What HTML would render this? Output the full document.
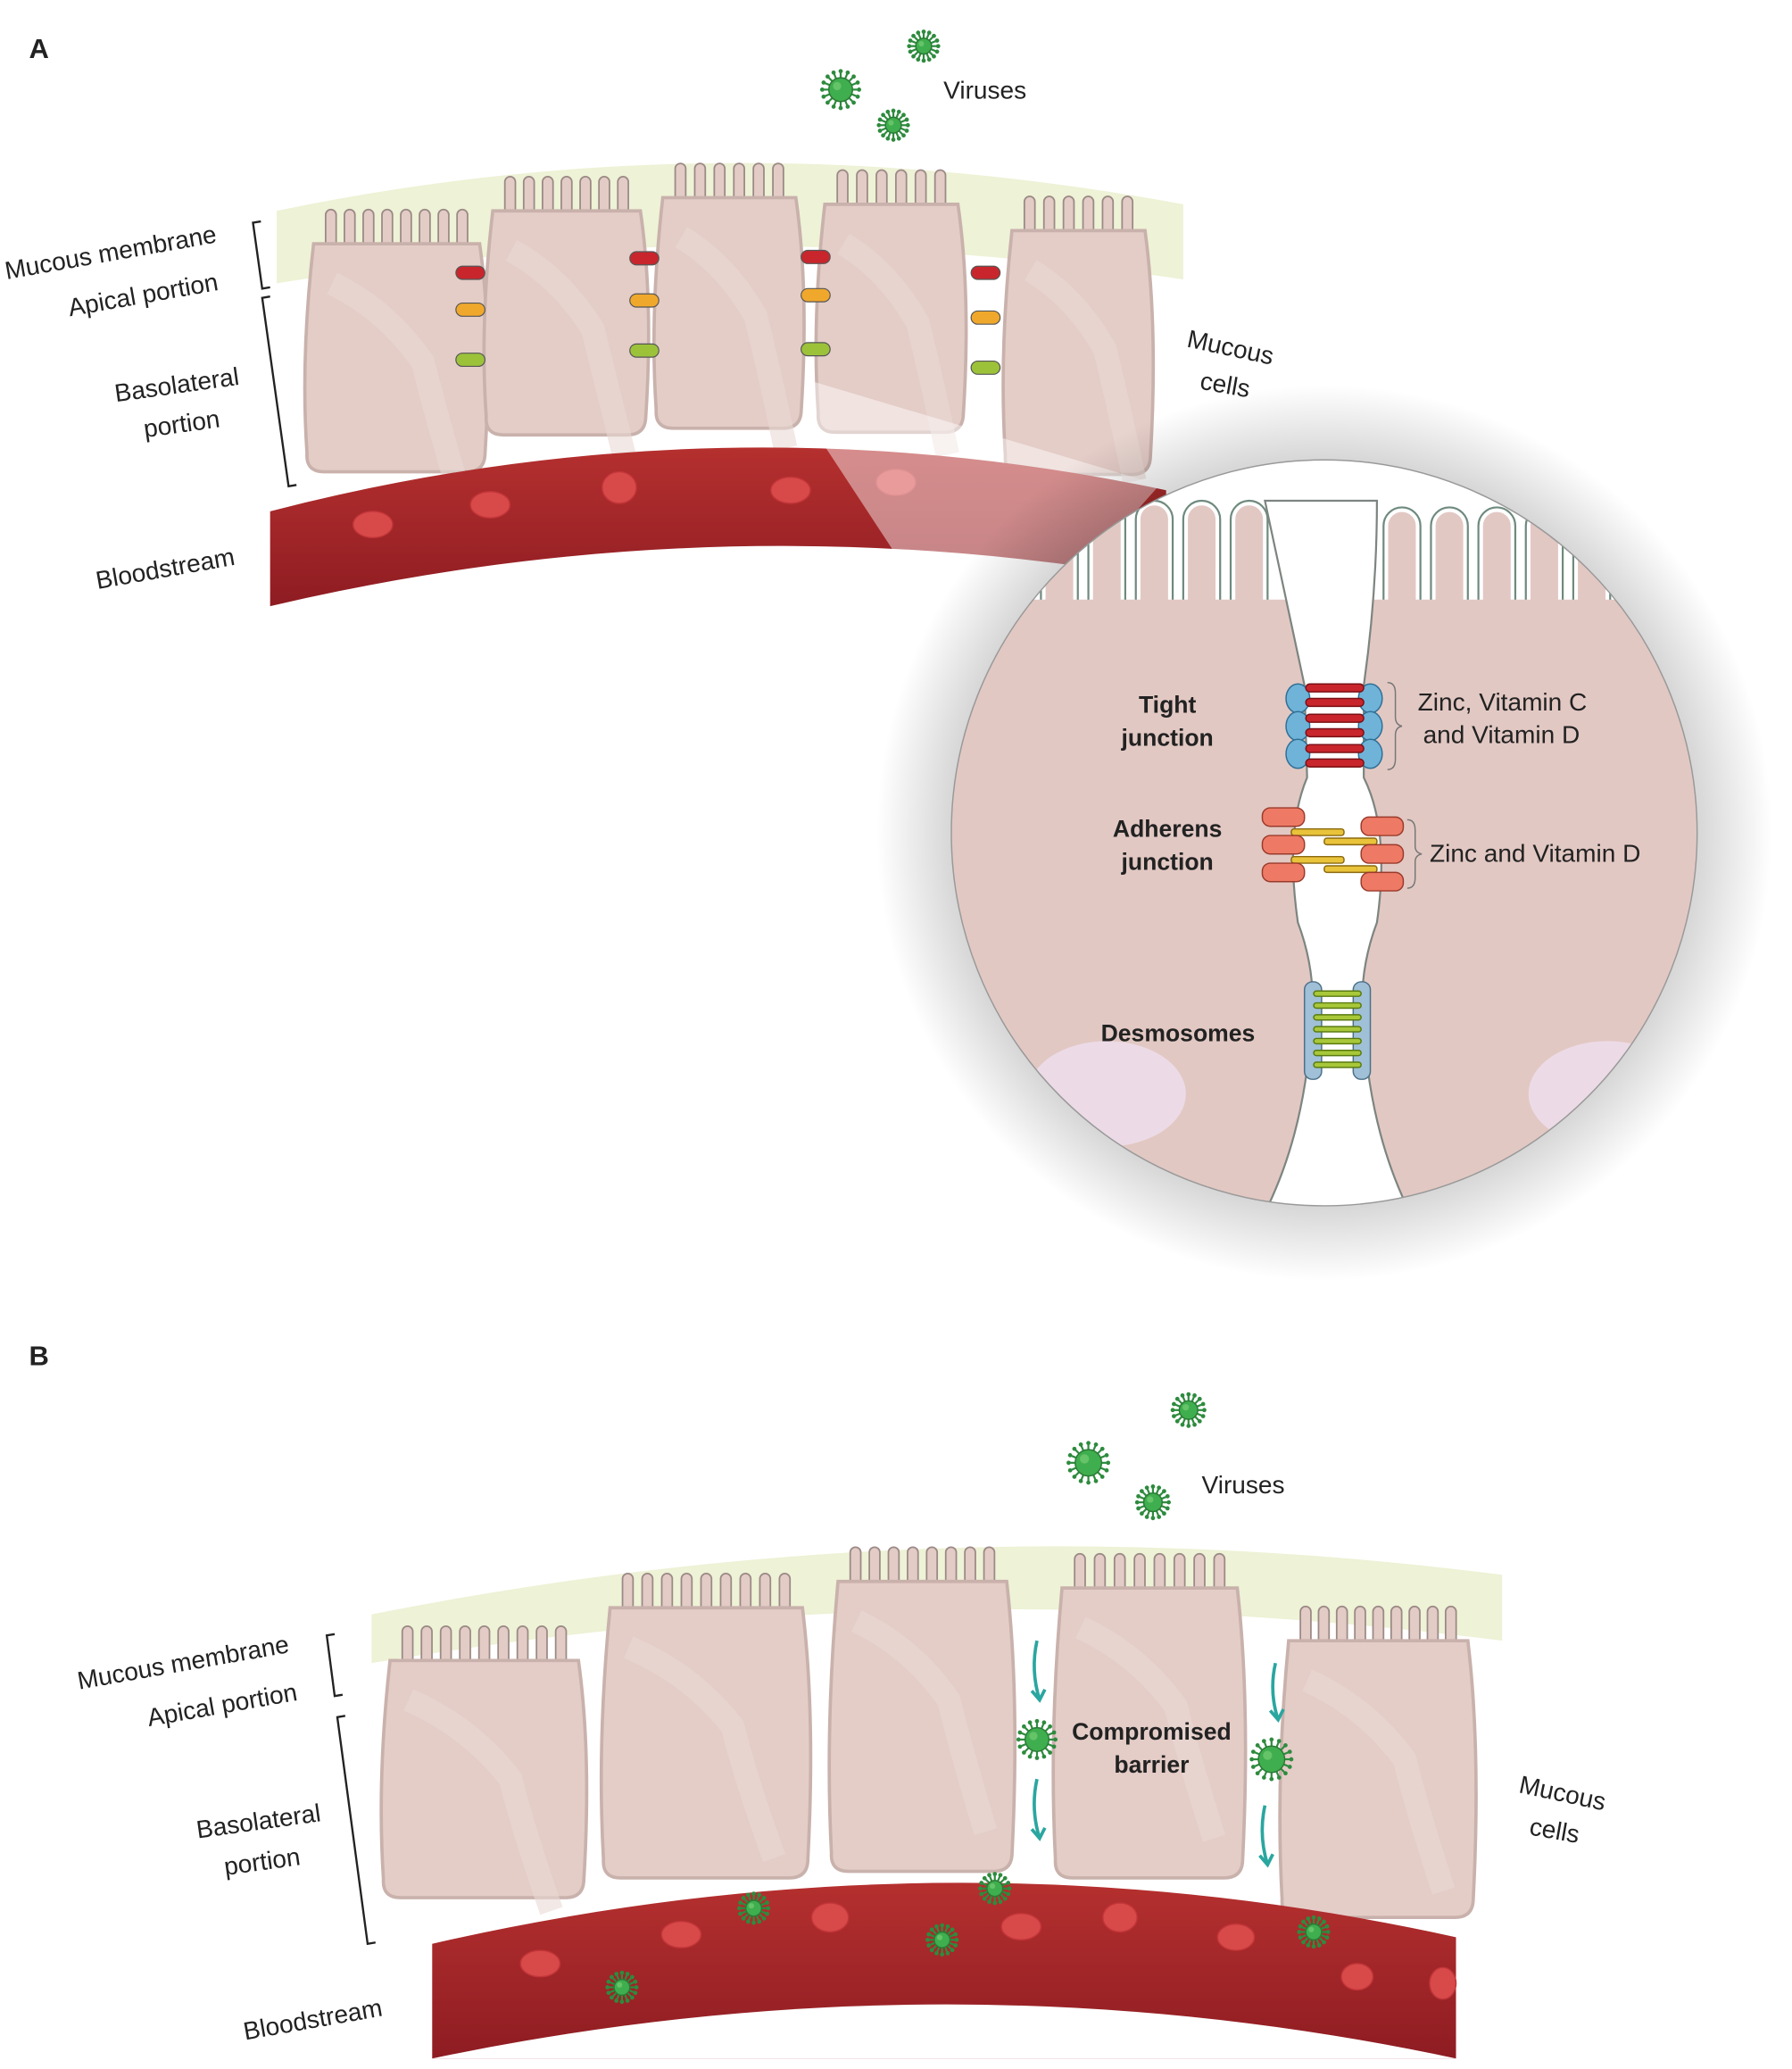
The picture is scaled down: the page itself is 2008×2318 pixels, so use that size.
<!DOCTYPE html>
<html><head><meta charset="utf-8">
<style>
html,body{margin:0;padding:0;background:#fff;}
svg{display:block;}
text{font-family:"Liberation Sans",sans-serif;font-size:19px;fill:#222;}
.b{font-weight:bold;}
</style></head>
<body>
<svg id="s" width="2008" height="2318" viewBox="0 0 1360 1570" preserveAspectRatio="none" xmlns="http://www.w3.org/2000/svg">
<defs>
<radialGradient id="sh" cx="0.5" cy="0.5" r="0.5">
<stop offset="0.78" stop-color="#000" stop-opacity="0.35"/>
<stop offset="1" stop-color="#000" stop-opacity="0"/>
</radialGradient>
<linearGradient id="bl" x1="0" y1="0" x2="0" y2="1">
<stop offset="0" stop-color="#b5302f"/><stop offset="1" stop-color="#8e1c22"/>
</linearGradient>
<clipPath id="cc"><circle cx="1005" cy="632" r="283"/></clipPath>
</defs>
<rect width="1360" height="1570" fill="#fff"/>
<text x="22" y="44" class="b" style="font-size:21px">A</text>
<text x="22" y="1036" class="b" style="font-size:21px">B</text>

<!-- Panel A -->
<path d="M210,160 Q545,90 898,155 L898,212 Q545,160 210,215 Z" fill="#eef2d6"/>
<g id="cellsA"></g>
<path d="M205,388 Q545,300 885,372 L885,440 Q545,380 205,460 Z" fill="url(#bl)"/>
<g fill="#d8494a" stroke="#c23538">
<ellipse cx="283" cy="398" rx="15" ry="10"/><ellipse cx="372" cy="383" rx="15" ry="10"/>
<ellipse cx="470" cy="370" rx="13" ry="12"/><ellipse cx="600" cy="372" rx="15" ry="10"/>
<ellipse cx="680" cy="366" rx="15" ry="10"/>
</g>
<polygon points="612,288 880,368 745,520 617,325" fill="#fff" opacity="0.45"/>
<circle cx="1005" cy="632" r="340" fill="url(#sh)" opacity="0.6"/>
<g clip-path="url(#cc)">
<rect x="700" y="340" width="620" height="600" fill="#e2c8c3"/>
<ellipse cx="840" cy="830" rx="60" ry="40" fill="#ecdbe6"/>
<ellipse cx="1220" cy="830" rx="60" ry="40" fill="#ecdbe6"/>
<g id="villiC"></g>
<path d="M960,380 Q975,450 990,520 L992,590 Q975,630 985,700 Q1000,740 995,780 Q990,860 960,920 L1070,920 Q1040,860 1035,780 Q1030,740 1045,700 Q1055,630 1035,590 L1035,520 Q1045,450 1045,380 Z" fill="#fff" stroke="#7d8580" stroke-width="1.5"/>
</g>
<circle cx="1005" cy="632" r="283" fill="none" stroke="#999" stroke-width="1"/>
<!-- tight -->
<g fill="#6fb3d9" stroke="#2f6f95">
<ellipse cx="985" cy="530" rx="9" ry="11"/><ellipse cx="985" cy="551" rx="9" ry="11"/><ellipse cx="985" cy="572" rx="9" ry="11"/>
<ellipse cx="1040" cy="530" rx="9" ry="11"/><ellipse cx="1040" cy="551" rx="9" ry="11"/><ellipse cx="1040" cy="572" rx="9" ry="11"/>
</g>
<g fill="#c8262c" stroke="#7a1015">
<rect x="991" y="519" width="44" height="6" rx="3"/><rect x="991" y="530" width="44" height="6" rx="3"/>
<rect x="991" y="542" width="44" height="6" rx="3"/><rect x="991" y="553" width="44" height="6" rx="3"/>
<rect x="991" y="565" width="44" height="6" rx="3"/><rect x="991" y="576" width="44" height="6" rx="3"/>
</g>
<path d="M1053,518 q6,0 6,8 v18 q0,6 5,7 q-5,1 -5,7 v18 q0,8 -6,8" fill="none" stroke="#777"/>
<!-- adherens -->
<g fill="#e9c33a" stroke="#8a6a10">
<rect x="980" y="629" width="40" height="5" rx="2"/><rect x="1005" y="636" width="40" height="5" rx="2"/>
<rect x="980" y="650" width="40" height="5" rx="2"/><rect x="1005" y="657" width="40" height="5" rx="2"/>
</g>
<g fill="#ee7a66" stroke="#9a3a2a">
<rect x="958" y="613" width="32" height="14" rx="6"/><rect x="958" y="634" width="32" height="14" rx="6"/><rect x="958" y="655" width="32" height="14" rx="6"/>
<rect x="1033" y="620" width="32" height="14" rx="6"/><rect x="1033" y="641" width="32" height="14" rx="6"/><rect x="1033" y="662" width="32" height="14" rx="6"/>
</g>
<path d="M1068,622 q6,0 6,8 v12 q0,5 5,6 q-5,1 -5,6 v12 q0,8 -6,8" fill="none" stroke="#777"/>
<!-- desmosomes -->
<g fill="#9fc0d6" stroke="#4c6f88">
<rect x="990" y="745" width="13" height="74" rx="6"/><rect x="1027" y="745" width="13" height="74" rx="6"/>
</g>
<g fill="#a8c83a" stroke="#5a7a10">
<rect x="997" y="752" width="36" height="4" rx="2"/><rect x="997" y="761" width="36" height="4" rx="2"/>
<rect x="997" y="770" width="36" height="4" rx="2"/><rect x="997" y="779" width="36" height="4" rx="2"/>
<rect x="997" y="788" width="36" height="4" rx="2"/><rect x="997" y="797" width="36" height="4" rx="2"/>
<rect x="997" y="806" width="36" height="4" rx="2"/>
</g>
<g text-anchor="middle" class="b" style="font-weight:bold">
<text x="886" y="541" style="font-weight:bold;font-size:18px">Tight</text>
<text x="886" y="566" style="font-weight:bold;font-size:18px">junction</text>
<text x="886" y="635" style="font-weight:bold;font-size:18px">Adherens</text>
<text x="886" y="660" style="font-weight:bold;font-size:18px">junction</text>
<text x="894" y="790" style="font-weight:bold;font-size:18px">Desmosomes</text>
</g>
<text x="1076" y="539">Zinc, Vitamin C</text>
<text x="1080" y="564">and Vitamin D</text>
<text x="1085" y="654">Zinc and Vitamin D</text>

<text x="716" y="75">Viruses</text>
<text transform="translate(5,212) rotate(-10)">Mucous membrane</text>
<text transform="translate(53,240) rotate(-10)">Apical portion</text>
<text transform="translate(88,305) rotate(-8)">Basolateral</text>
<text transform="translate(110,332) rotate(-8)">portion</text>
<text transform="translate(74,447) rotate(-10)">Bloodstream</text>
<text transform="translate(900,263) rotate(12)">Mucous</text>
<text transform="translate(910,295) rotate(10)">cells</text>
<path d="M198,168 l-6,1 l7,50 l6,-1 M205,225 l-6,1 l20,143 l6,-1" fill="none" stroke="#222" stroke-width="1.6"/>

<!-- Panel B -->
<path d="M282,1225 Q710,1140 1140,1195 L1140,1245 Q710,1190 282,1262 Z" fill="#eef2d6"/>
<g id="cellsB"></g>
<path d="M328,1475 Q720,1385 1105,1470 L1105,1562 L328,1562 Z" fill="url(#bl)"/>
<path d="M328,1562 Q720,1480 1105,1562 Z" fill="#fff"/>
<g fill="#d8494a" stroke="#c23538">
<ellipse cx="410" cy="1490" rx="15" ry="10"/><ellipse cx="517" cy="1468" rx="15" ry="10"/>
<ellipse cx="630" cy="1455" rx="14" ry="11"/><ellipse cx="775" cy="1462" rx="15" ry="10"/>
<ellipse cx="850" cy="1455" rx="13" ry="11"/><ellipse cx="938" cy="1470" rx="14" ry="10"/>
<ellipse cx="1030" cy="1500" rx="12" ry="10"/><ellipse cx="1095" cy="1505" rx="10" ry="12"/>
</g>
<g id="arrows" fill="none" stroke="#2aa6a0" stroke-width="2.5"></g>
<text x="912" y="1133">Viruses</text>
<text x="874" y="1320" text-anchor="middle" style="font-weight:bold;font-size:18px">Compromised</text>
<text x="874" y="1345" text-anchor="middle" style="font-weight:bold;font-size:18px">barrier</text>
<text transform="translate(60,1282) rotate(-10)">Mucous membrane</text>
<text transform="translate(113,1310) rotate(-10)">Apical portion</text>
<text transform="translate(150,1395) rotate(-8)">Basolateral</text>
<text transform="translate(171,1423) rotate(-8)">portion</text>
<text transform="translate(186,1548) rotate(-10)">Bloodstream</text>
<text transform="translate(1152,1360) rotate(12)">Mucous</text>
<text transform="translate(1160,1392) rotate(10)">cells</text>
<path d="M254,1240 l-6,1 l6,46 l6,-1 M262,1302 l-6,1 l23,172 l6,-1" fill="none" stroke="#222" stroke-width="1.6"/>
<g id="vir"></g>
</svg>
<script>
var NS="http://www.w3.org/2000/svg";
function el(p,t,a){var e=document.createElementNS(NS,t);for(var k in a)e.setAttribute(k,a[k]);p.appendChild(e);return e;}
function cell(g,x0,x1,top,bot){
  var w=x1-x0,n=Math.max(5,Math.round((w-20)/15)),sp=(w-24)/n;
  for(var i=0;i<n;i++){var vx=x0+12+i*sp+sp/2-4;el(g,"rect",{x:vx,y:top-26,width:8,height:34,rx:4,fill:"#e3cbc6",stroke:"#9b8a86","stroke-width":1.2});}
  el(g,"path",{d:"M"+(x0+6)+","+top+" L"+(x1-6)+","+top+" Q"+(x1+4)+","+(top+(bot-top)*0.4)+" "+(x1-2)+","+(bot-12)+" Q"+(x1-3)+","+bot+" "+(x1-16)+","+bot+" L"+(x0+14)+","+bot+" Q"+(x0)+","+bot+" "+(x0+1)+","+(bot-14)+" Q"+(x0-4)+","+(top+(bot-top)*0.5)+" "+(x0+6)+","+top+"Z",fill:"#e4ccc7",stroke:"#c9b1ac","stroke-width":2.5});
  el(g,"path",{d:"M"+(x0+20)+","+(top+30)+" q"+(w*0.3)+",20 "+(w*0.5)+",60 q10,40 "+(w*0.2)+",100",fill:"none",stroke:"#ead8d4","stroke-width":18,opacity:0.6});
}
var A=[[232,370,185,358],[368,492,160,330],[497,610,150,325],[620,733,155,328],[762,875,175,360]];
var gA=document.getElementById("cellsA");A.forEach(function(c){cell(gA,c[0],c[1],c[2],c[3]);});
var J=[[357,207,235,273],[489,196,228,266],[619,195,224,265],[748,207,241,279]];
J.forEach(function(j){[["#c8262c",j[1]],["#f0a82c",j[2]],["#9cc23a",j[3]]].forEach(function(p){el(gA,"rect",{x:j[0]-11,y:p[1]-5,width:22,height:10,rx:5,fill:p[0],stroke:"#555","stroke-width":0.8});});});
var B=[[290,445,1260,1440],[457,615,1220,1425],[630,770,1200,1420],[800,945,1205,1425],[972,1120,1245,1455]];
var gB=document.getElementById("cellsB");B.forEach(function(c){cell(gB,c[0],c[1],c[2],c[3]);});
// zoom villi
var gv=document.getElementById("villiC");
function villi(x0,x1,yb,yt){for(var x=x0;x<x1;x+=36){el(gv,"path",{d:"M"+x+","+yb+" L"+x+","+(yt+14)+" a14,14 0 0 1 28,0 L"+(x+28)+","+yb,fill:"#e2c8c3",stroke:"#fff","stroke-width":7});el(gv,"path",{d:"M"+x+","+yb+" L"+x+","+(yt+14)+" a14,14 0 0 1 28,0 L"+(x+28)+","+yb,fill:"none",stroke:"#6f8a7e","stroke-width":1.5});}}
el(gv,"rect",{x:700,y:340,width:620,height:120,fill:"#fff"});
villi(790,960,460,380);villi(1050,1240,470,385);
el(gv,"rect",{x:700,y:455,width:620,height:20,fill:"#e2c8c3"});
// arrows
var ga=document.getElementById("arrows");
[[787,1245,1290],[787,1350,1395],[968,1262,1305],[960,1370,1415]].forEach(function(a){el(ga,"path",{d:"M"+a[0]+","+a[1]+" q-5,"+((a[2]-a[1])/2)+" 2,"+(a[2]-a[1])});el(ga,"path",{d:"M"+(a[0]-4)+","+(a[2]-7)+" l6,7 l4,-8"});});
// viruses
var gz=document.getElementById("vir");
function virus(cx,cy,r){for(var i=0;i<16;i++){var a=i*Math.PI/8;el(gz,"line",{x1:cx+Math.cos(a)*r,y1:cy+Math.sin(a)*r,x2:cx+Math.cos(a)*(r+5),y2:cy+Math.sin(a)*(r+5),stroke:"#2e8b3e","stroke-width":1.5});el(gz,"circle",{cx:cx+Math.cos(a)*(r+5),cy:cy+Math.sin(a)*(r+5),r:1.6,fill:"#2e8b3e"});}
el(gz,"circle",{cx:cx,cy:cy,r:r,fill:"#3fae4e",stroke:"#2a7a35"});el(gz,"circle",{cx:cx-r*0.3,cy:cy-r*0.3,r:r*0.35,fill:"#7fd07a",opacity:0.6});}
[[638,68,9],[701,35,6],[678,95,6],[826,1110,10],[902,1070,7],[875,1140,7],[787,1320,9],[965,1335,10],[572,1448,6],[755,1433,6],[715,1472,6],[997,1466,6],[472,1508,6]].forEach(function(v){virus(v[0],v[1],v[2]);});
</script>
</body></html>
